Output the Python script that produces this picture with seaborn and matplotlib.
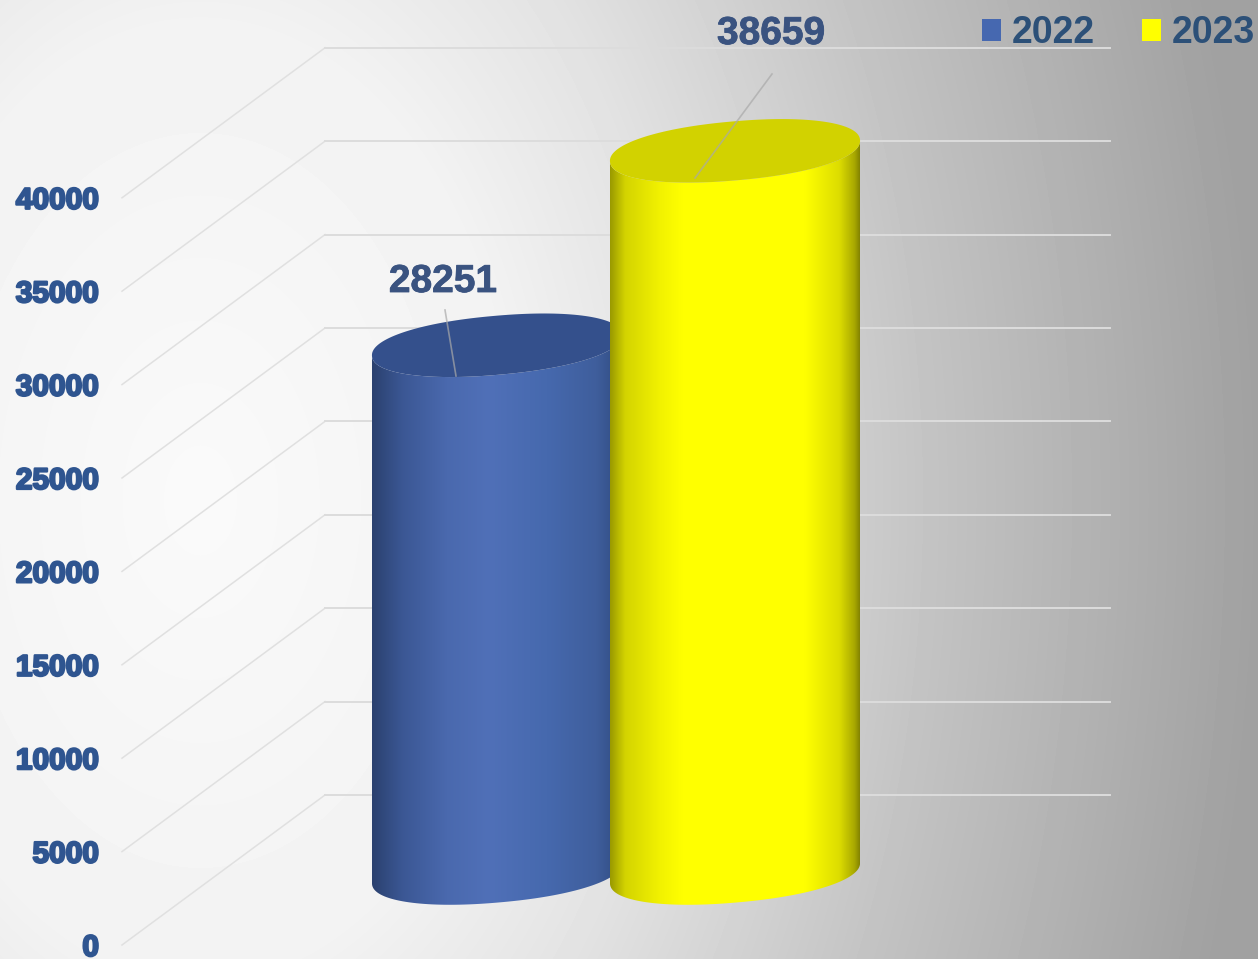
import numpy as np
import pandas as pd
import matplotlib
matplotlib.use("Agg")
import matplotlib.pyplot as plt
import matplotlib.patheffects as pe
from matplotlib.colors import LinearSegmentedColormap
from matplotlib.patches import Polygon
import seaborn as sns

years = ["2022", "2023"]
values = [28251, 38659]
tick_values = [0, 5000, 10000, 15000, 20000, 25000, 30000, 35000, 40000]
bar_colors = ["#4668b0", "#ffff00"]
top_colors = ["#34508c", "#d2d200"]
side_stops = [
    [(0, "#2b416f"), (0.12, "#3b5794"), (0.3, "#4a69ae"), (0.47, "#5070b8"), (0.7, "#4669ae"), (0.9, "#3f5e9c"), (1, "#2f4a80")],
    [(0, "#9a9a00"), (0.06, "#d4d400"), (0.2, "#f2f200"), (0.29, "#ffff00"), (0.78, "#ffff00"), (0.92, "#dcdc00"), (0.98, "#a8a800"), (1, "#858500")],
]

W, H = 1258, 959
PX_PER_VALUE = 93.4 / 5000
BASE_Y = 873      # floor under the cylinders, pixels from top
FRONT_Y = 945     # floor at the front edge (where the tick labels sit)
BACK_Y = 795      # floor at the back wall
UNIT_PX = 238     # pixels between the two categories
FIRST_X = 497

plt.rcParams["font.family"] = ["Liberation Sans", "DejaVu Sans"]
fig = plt.figure(figsize=(W / 100, H / 100), dpi=100)

# background
bg = fig.add_axes([0, 0, 1, 1], zorder=0)
yy, xx = np.mgrid[0:H, 0:W]
r = np.sqrt(((xx - 200) / 1060) ** 2 + ((yy - 500) / 1600) ** 2)
shade = np.interp(r, [0, 0.3, 0.45, 0.7, 1.0], [0.98, 0.95, 0.89, 0.76, 0.63])
bg.imshow(shade, cmap="gray", vmin=0, vmax=1, aspect="auto")
bg.axis("off")

ax = fig.add_axes([0, 0, 1, 1], zorder=1)
ax.patch.set_visible(False)
df = pd.DataFrame({"year": years, "value": values})
sns.barplot(data=df, x="year", y="value", hue="year", palette=bar_colors, width=125 * 2 / UNIT_PX,
            saturation=1, ax=ax, legend=True, errorbar=None)
ax.set_xlim(-FIRST_X / UNIT_PX, (W - FIRST_X) / UNIT_PX)
ax.set_ylim((BASE_Y - H) / PX_PER_VALUE, BASE_Y / PX_PER_VALUE)


def to_x(px):
    return (px - FIRST_X) / UNIT_PX


def to_y(py):
    return (BASE_Y - py) / PX_PER_VALUE


# walls
for v in tick_values:
    front = FRONT_Y - v * PX_PER_VALUE
    back = BACK_Y - v * PX_PER_VALUE
    ax.plot([to_x(122), to_x(325)], [to_y(front), to_y(back)], color="#e0e0e0", lw=1.1, zorder=1)
    ax.plot([to_x(325), to_x(1110)], [to_y(back), to_y(back)], color="#dcdcdc", lw=1.4, zorder=1)


def ellipse_points(cx, cy, t):
    # cx, cy in pixels, tilted so the left end hangs lower; slightly squared ends
    a, b, tilt = 125.5, 29.5, np.radians(5.0)
    c, s = np.cos(t), np.sin(t)
    c = np.sign(c) * np.abs(c) ** 0.93
    s = np.sign(s) * np.abs(s) ** 0.93
    x = cx + a * c * np.cos(tilt) - b * s * np.sin(tilt)
    y = cy - a * c * np.sin(tilt) - b * s * np.cos(tilt)
    return to_x(x), to_y(y)


# turn the flat bars into cylinders
bars = list(ax.patches)[:len(values)]
for i, bar in enumerate(bars):
    bar.set_visible(False)
    x0, x1 = bar.get_x(), bar.get_x() + bar.get_width()
    h = bar.get_height()
    cx = FIRST_X + (x0 + x1) / 2 * UNIT_PX
    top_y = BASE_Y - h * PX_PER_VALUE

    t_low = np.linspace(np.pi, 2 * np.pi, 80)
    bx, by = ellipse_points(cx, BASE_Y, t_low)
    tx, ty = ellipse_points(cx, top_y, t_low[::-1])
    outline = np.column_stack([np.r_[tx, bx], np.r_[ty, by]])
    body = Polygon(outline, closed=True, transform=ax.transData, facecolor="none", edgecolor="none")
    ax.add_patch(body)

    cmap = LinearSegmentedColormap.from_list(f"side{i}", side_stops[i])
    grad = np.linspace(0, 1, 256)[None, :]
    im = ax.imshow(grad, cmap=cmap, extent=[x0, x1, to_y(930), to_y(top_y - 60)], aspect="auto",
                   zorder=3 + i, interpolation="bilinear")
    im.set_clip_path(body)

    t_all = np.linspace(0, 2 * np.pi, 160)
    ex, ey = ellipse_points(cx, top_y, t_all)
    ax.add_patch(Polygon(np.column_stack([ex, ey]), closed=True, facecolor=top_colors[i],
                         edgecolor="none", zorder=3.5 + i))

ax.set_xlim(-FIRST_X / UNIT_PX, (W - FIRST_X) / UNIT_PX)
ax.set_ylim((BASE_Y - H) / PX_PER_VALUE, BASE_Y / PX_PER_VALUE)

# data labels with their leader lines
label_pos = [(443, 282), (771, 34)]
leaders = [((445, 310), (456, 376)), ((772, 74), (695, 178))]
for i, v in enumerate(values):
    ax.text(to_x(label_pos[i][0]), to_y(label_pos[i][1]), str(v), ha="center", va="center",
            fontsize=28, fontweight="bold", color="#3a5380", zorder=8,
            path_effects=[pe.withStroke(linewidth=0.6, foreground="#3a5380")])
    (x1, y1), (x2, y2) = leaders[i]
    ax.plot([to_x(x1), to_x(x2)], [to_y(y1), to_y(y2)], color="#a9a9a9", lw=1.2, alpha=0.7, zorder=7)

ax.axis("off")
sns.move_legend(ax, loc="upper right", bbox_to_anchor=(1255 / W, 0.984), ncol=2, title=None, frameon=False,
                prop={"weight": "bold", "size": 27}, labelcolor="#2c5078", handlelength=0.5,
                handleheight=0.5, handletextpad=0.3, columnspacing=1.24, borderpad=0, borderaxespad=0)

# tick labels sit on the front edge of the floor
tick_ax = fig.add_axes([99 / W, 0, 1 / W, 1], zorder=2)
tick_ax.patch.set_visible(False)
tick_ax.set_ylim((FRONT_Y - H) / PX_PER_VALUE, FRONT_Y / PX_PER_VALUE)
tick_ax.set_yticks(tick_values)
tick_ax.set_yticklabels([str(v) for v in tick_values])
tick_ax.set_xticks([])
tick_ax.tick_params(axis="y", length=0, pad=0)
for s in tick_ax.spines.values():
    s.set_visible(False)
for lab in tick_ax.get_yticklabels():
    lab.set_fontsize(21.5)
    lab.set_fontweight("bold")
    lab.set_color("#2f5590")
    lab.set_path_effects([pe.withStroke(linewidth=1.6, foreground="#2f5590")])

fig.savefig("out.png", dpi=100)
